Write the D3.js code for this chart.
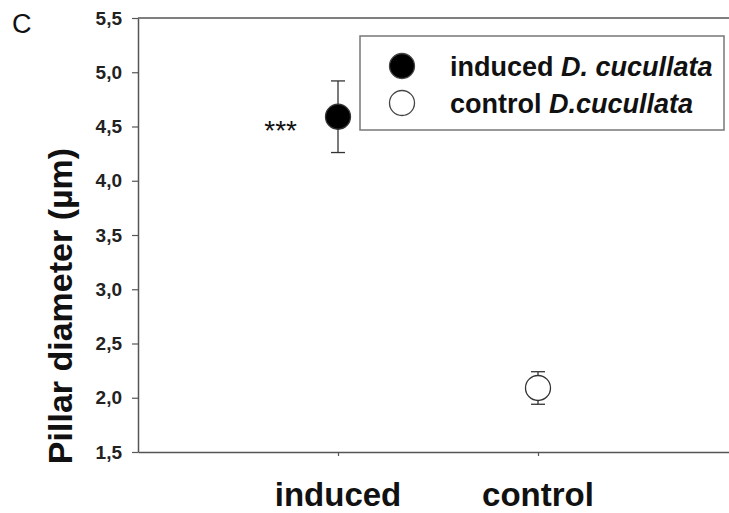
<!DOCTYPE html>
<html>
<head>
<meta charset="utf-8">
<script src="https://cdn.jsdelivr.net/npm/d3@7"></script>
<style>
  body { margin: 0; background: #fff; }
  svg { display: block; font-family: "Liberation Sans", Arial, sans-serif; }
</style>
</head>
<body>
<div id="chart"></div>
<script>
// data
const categories = ["induced", "control"];
const means = [4.59, 2.09];
const errUpper = [4.92, 2.24];
const errLower = [4.26, 1.94];
const seriesNames = ["induced", "control"];
const yTicks = [1.5, 2.0, 2.5, 3.0, 3.5, 4.0, 4.5, 5.0, 5.5];

window.onload = function () {
    const width = 729;
    const height = 513;
    const margin = { top: 18, right: 0, bottom: 61, left: 138 };

    const svg = d3.select("#chart")
        .append("svg")
        .attr("width", width)
        .attr("height", height);

    const x = d3.scalePoint()
        .domain(categories)
        .range([margin.left, 738])
        .padding(1);

    const y = d3.scaleLinear()
        .domain([1.5, 5.5])
        .range([height - margin.bottom, margin.top]);

    const fmt = d3.formatLocale({ decimal: ",", thousands: ".", grouping: [3], currency: ["", ""] }).format(".1f");

    const axisColor = "#555";

    // frame lines (top + bottom, left comes from axis)
    svg.append("line")
        .attr("x1", margin.left).attr("x2", width)
        .attr("y1", y(5.5)).attr("y2", y(5.5))
        .attr("stroke", axisColor).attr("stroke-width", 1.5);

    // X axis
    const gx = svg.append("g")
        .attr("transform", `translate(0,${y(1.5)})`)
        .call(d3.axisBottom(x).tickSize(4).tickSizeOuter(0).tickFormat(""));
    gx.select(".domain").attr("stroke", axisColor).attr("stroke-width", 1.5);
    gx.selectAll(".tick line").attr("stroke", axisColor).attr("stroke-width", 1.2);

    // category labels
    svg.selectAll(".cat-label")
        .data(categories)
        .enter().append("text")
        .attr("class", "cat-label")
        .attr("x", d => x(d))
        .attr("y", 506)
        .attr("text-anchor", "middle")
        .attr("font-size", 33)
        .attr("font-weight", "bold")
        .attr("fill", "#111")
        .text(d => d);

    // Y axis
    const gy = svg.append("g")
        .attr("transform", `translate(${margin.left},0)`)
        .call(d3.axisLeft(y).tickValues(yTicks).tickSize(6).tickSizeOuter(0).tickPadding(10).tickFormat(fmt));
    gy.select(".domain").attr("stroke", axisColor).attr("stroke-width", 1.5);
    gy.selectAll(".tick line").attr("stroke", axisColor).attr("stroke-width", 1.2);
    gy.selectAll(".tick text")
        .attr("font-size", 19)
        .attr("font-weight", "bold")
        .attr("fill", "#222")
        .attr("font-family", "'Liberation Sans', Arial, sans-serif");

    // Y title
    svg.append("text")
        .attr("transform", `translate(72,306) rotate(-90)`)
        .attr("text-anchor", "middle")
        .attr("font-size", 34)
        .attr("font-weight", "bold")
        .attr("fill", "#111")
        .text("Pillar diameter (µm)");

    // panel letter
    svg.append("text")
        .attr("x", 12).attr("y", 33)
        .attr("font-size", 27)
        .attr("fill", "#111")
        .text("C");

    // error bars
    const cap = 7;
    const err = svg.append("g").attr("stroke", "#333").attr("stroke-width", 1.3);
    categories.forEach((c, i) => {
        err.append("line")
            .attr("x1", x(c)).attr("x2", x(c))
            .attr("y1", y(errUpper[i])).attr("y2", y(errLower[i]));
        err.append("line")
            .attr("x1", x(c) - cap).attr("x2", x(c) + cap)
            .attr("y1", y(errUpper[i])).attr("y2", y(errUpper[i]));
        err.append("line")
            .attr("x1", x(c) - cap).attr("x2", x(c) + cap)
            .attr("y1", y(errLower[i])).attr("y2", y(errLower[i]));
    });

    // points
    svg.selectAll(".pt")
        .data(categories)
        .enter().append("circle")
        .attr("class", "pt")
        .attr("cx", d => x(d))
        .attr("cy", (d, i) => y(means[i]))
        .attr("r", 12.5)
        .attr("fill", (d, i) => i === 0 ? "#000" : "#fff")
        .attr("stroke", "#333")
        .attr("stroke-width", 1.3);

    // significance stars
    svg.append("text")
        .attr("x", x("induced") - 41)
        .attr("y", y(means[0]) + 23)
        .attr("text-anchor", "end")
        .attr("font-size", 28)
        .attr("fill", "#111")
        .text("***");

    // legend
    const lg = svg.append("g").attr("transform", "translate(360,36)");
    lg.append("rect")
        .attr("width", 364).attr("height", 94)
        .attr("fill", "#fff")
        .attr("stroke", "#777").attr("stroke-width", 1.5);

    const rows = lg.selectAll(".lg-row")
        .data(seriesNames)
        .enter().append("g")
        .attr("class", "lg-row")
        .attr("transform", (d, i) => `translate(0,${30 + i * 37})`);

    rows.append("circle")
        .attr("cx", 42).attr("cy", 0).attr("r", 12.5)
        .attr("fill", (d, i) => i === 0 ? "#000" : "#fff")
        .attr("stroke", "#444").attr("stroke-width", 1.3);

    const txt = rows.append("text")
        .attr("x", 90).attr("y", 9.5)
        .attr("font-size", 27)
        .attr("font-weight", "bold")
        .attr("fill", "#111");
    txt.append("tspan").text(d => d + " ");
    txt.append("tspan")
        .attr("font-style", "italic")
        .text((d, i) => i === 0 ? "D. cucullata" : "D.cucullata");
};
</script>
</body>
</html>
